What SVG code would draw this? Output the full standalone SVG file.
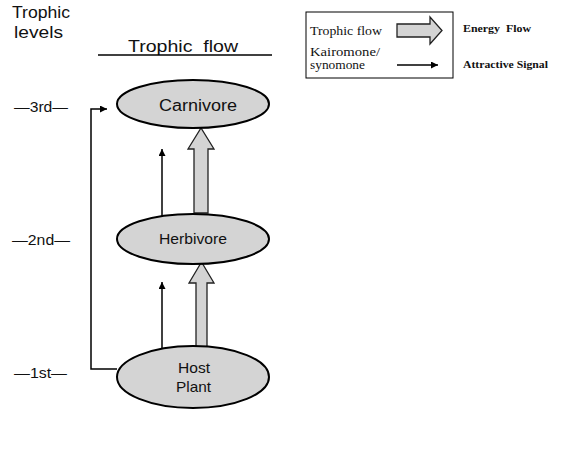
<svg xmlns="http://www.w3.org/2000/svg" width="561" height="460" viewBox="0 0 561 460">
<defs>
<marker id="ah" viewBox="0 0 10 10" refX="10" refY="5" markerWidth="9" markerHeight="7" markerUnits="userSpaceOnUse" orient="auto">
<path d="M0,0 L10,5 L0,10 Z" fill="#000"/>
</marker>
</defs>
<style>
.sans{font-family:"Liberation Sans",Arial,sans-serif;fill:#111}
.serif{font-family:"Liberation Serif","Times New Roman",serif;fill:#111}
.node{fill:#d4d4d4;stroke:#000;stroke-width:2}
.big{fill:#d4d4d4;stroke:#222;stroke-width:1.3}
.sig{fill:none;stroke:#000;stroke-width:1.5}
</style>
<rect width="561" height="460" fill="#fff"/>
<text class="sans" x="12" y="18" font-size="16" textLength="58" lengthAdjust="spacingAndGlyphs">Trophic</text>
<text class="sans" x="14" y="38" font-size="16" textLength="49" lengthAdjust="spacingAndGlyphs">levels</text>
<text class="sans" x="128" y="52" font-size="16" xml:space="preserve" textLength="110" lengthAdjust="spacingAndGlyphs">Trophic  flow</text>
<line x1="98" y1="55" x2="272" y2="55" stroke="#000" stroke-width="1.5"/>
<text class="sans" x="14" y="112" font-size="14" textLength="54" lengthAdjust="spacingAndGlyphs">—3rd—</text>
<text class="sans" x="12" y="245" font-size="14" textLength="58" lengthAdjust="spacingAndGlyphs">—2nd—</text>
<text class="sans" x="14" y="378" font-size="14" textLength="53" lengthAdjust="spacingAndGlyphs">—1st—</text>
<g id="connectors">
<path class="big" d="M194,213 L194,149 L188,149 L201,128 L214,149 L208,149 L208,213 Z"/>
<path class="big" d="M196,347 L196,283 L189,283 L201.5,262 L214,283 L207,283 L207,347 Z"/>
<line class="sig" x1="162" y1="219" x2="162" y2="149" marker-end="url(#ah)"/>
<line class="sig" x1="162" y1="348" x2="162" y2="282" marker-end="url(#ah)"/>
<polyline class="sig" points="117,369 91,369 91,109 107,109" marker-end="url(#ah)"/>
</g>
<g id="carnivore">
<ellipse class="node" cx="193" cy="104" rx="76" ry="24"/>
<text class="sans" x="159" y="111" font-size="16" textLength="78" lengthAdjust="spacingAndGlyphs">Carnivore</text>
</g>
<g id="herbivore">
<ellipse class="node" cx="193" cy="239" rx="76" ry="25"/>
<text class="sans" x="159" y="244" font-size="15" textLength="68" lengthAdjust="spacingAndGlyphs">Herbivore</text>
</g>
<g id="hostplant">
<ellipse class="node" cx="193" cy="377" rx="76" ry="31"/>
<text class="sans" x="178" y="373" font-size="15" textLength="32" lengthAdjust="spacingAndGlyphs">Host</text>
<text class="sans" x="176" y="392" font-size="15" textLength="35" lengthAdjust="spacingAndGlyphs">Plant</text>
</g>
<g id="legend">
<rect x="306" y="12" width="147" height="66" fill="none" stroke="#000" stroke-width="1"/>
<text class="serif" x="310" y="35" font-size="12.5" textLength="72" lengthAdjust="spacingAndGlyphs">Trophic flow</text>
<path class="big" d="M397,24 L430,24 L430,17 L442,30.5 L430,44 L430,37 L397,37 Z"/>
<text class="serif" x="310" y="56" font-size="12.5" textLength="70" lengthAdjust="spacingAndGlyphs">Kairomone/</text>
<text class="serif" x="310" y="69" font-size="12.5" textLength="55" lengthAdjust="spacingAndGlyphs">synomone</text>
<line class="sig" x1="397" y1="65" x2="438" y2="65" marker-end="url(#ah)"/>
<text class="serif" x="463" y="32" font-size="10" font-weight="bold" xml:space="preserve" textLength="68" lengthAdjust="spacingAndGlyphs">Energy  Flow</text>
<text class="serif" x="463" y="68" font-size="10" font-weight="bold" textLength="85" lengthAdjust="spacingAndGlyphs">Attractive Signal</text>
</g>
</svg>
